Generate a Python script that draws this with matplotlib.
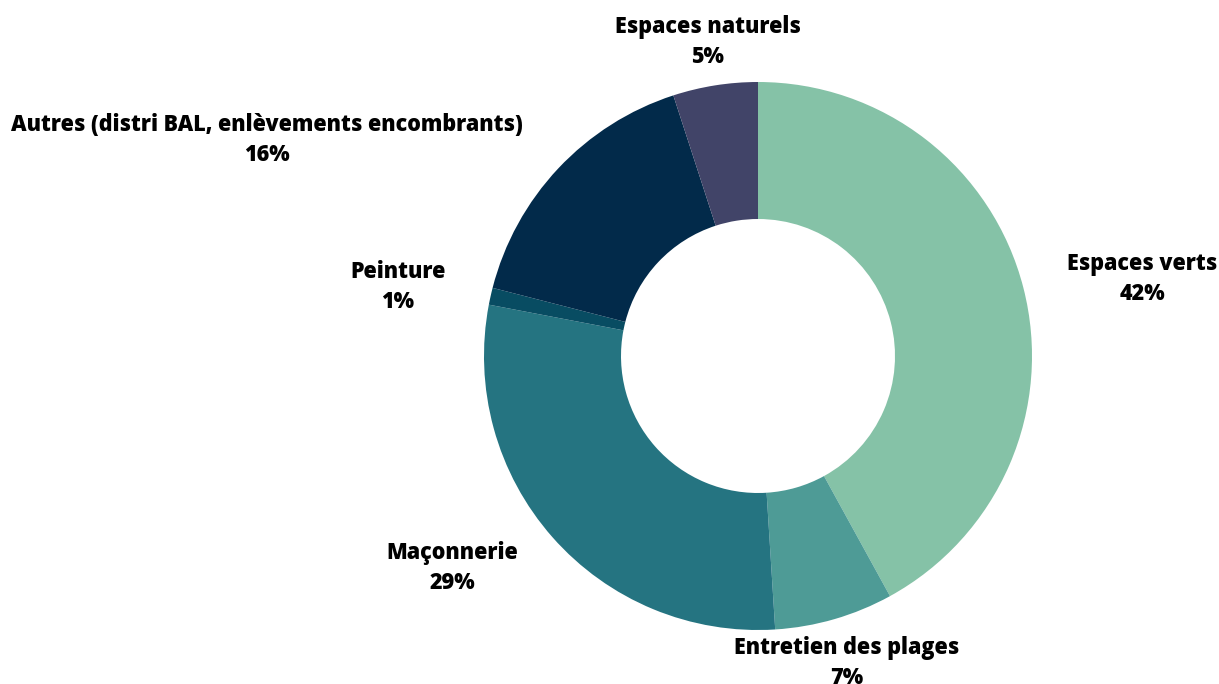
import matplotlib
matplotlib.use("Agg")
import matplotlib.pyplot as plt
from matplotlib import font_manager as fm

categories = ["Espaces verts", "Entretien des plages", "Maçonnerie", "Peinture",
              "Autres (distri BAL, enlèvements encombrants)", "Espaces naturels"]
values = [42, 7, 29, 1, 16, 5]
colors = ["#85C2A7", "#4E9B96", "#257481", "#084C62", "#022A4A", "#414468"]

# label centres in pixel coordinates (layout)
label_pos = [(1142, 279), (847, 663), (452, 568), (398, 287), (267, 140), (708, 42)]

W, H = 1219, 684
fig = plt.figure(figsize=(W / 100, H / 100), dpi=100)
ax = fig.add_axes([0, 0, 1, 1])

cx, cy, R = 758, 356, 274
# y axis is inverted: startangle -90 in data = top of screen, counterclock in data = clockwise on screen
wedges, _ = ax.pie(values, colors=colors, startangle=-90, counterclock=True,
                   center=(cx, cy), radius=R, frame=True,
                   wedgeprops=dict(width=R * 0.5, linewidth=0))
ax.set_xlim(0, W)
ax.set_ylim(H, 0)
ax.set_aspect("equal")
ax.axis("off")

names = sorted({f.name + ":" + str(f.weight) for f in fm.fontManager.ttflist if "Open Sans" in f.name})
print(names)

for cat, v, (x, y) in zip(categories, values, label_pos):
    ax.text(x, y, f"{cat}\n{v}%", ha="center", va="center", fontsize=15.5,
            fontweight=800, family=["Open Sans", "DejaVu Sans"],
            linespacing=1.3, color="black")

fig.savefig("out.png", dpi=100)
